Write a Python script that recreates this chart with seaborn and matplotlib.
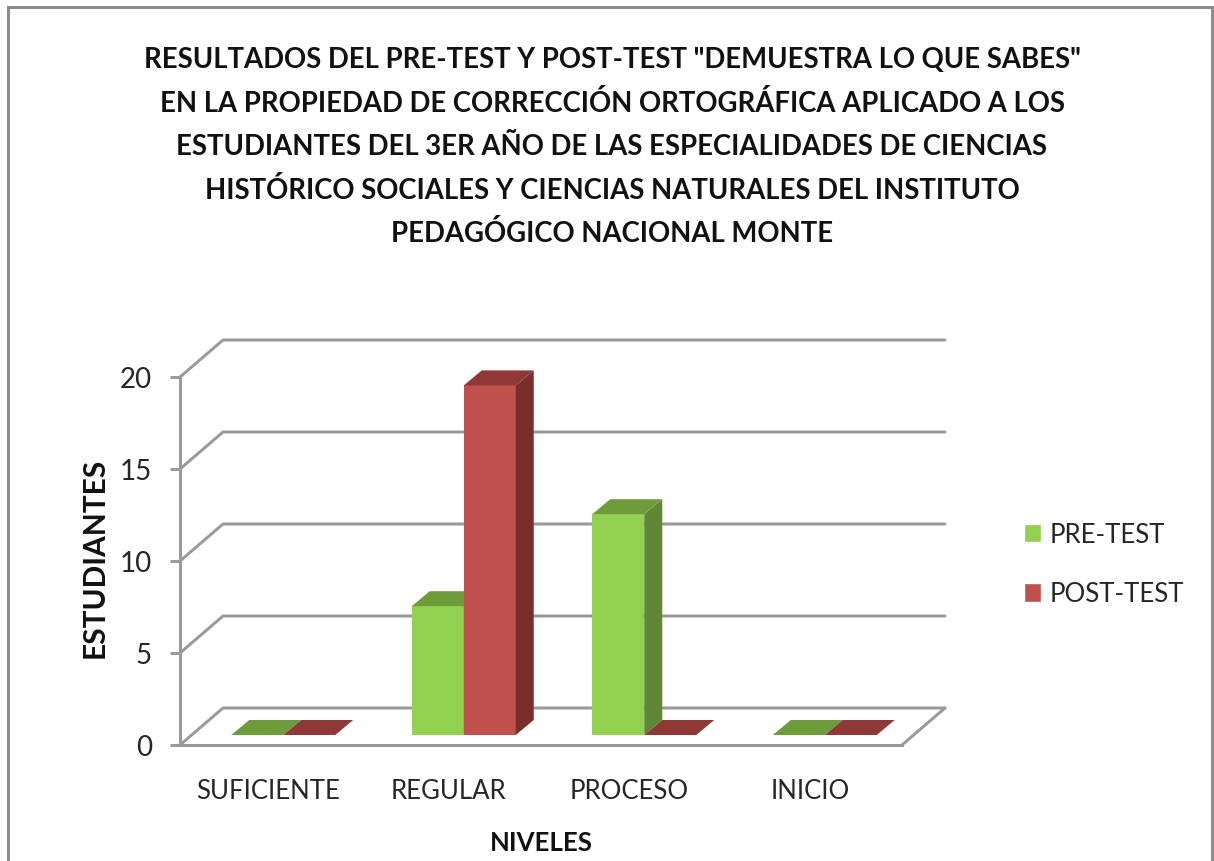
# Loads the necessary modules
import pandas as pd
import matplotlib
matplotlib.use("Agg")
import matplotlib.pyplot as plt
from matplotlib.patches import Polygon, Rectangle
from matplotlib.lines import Line2D
from matplotlib.transforms import Affine2D, IdentityTransform
import seaborn as sns

# Data
niveles = ["SUFICIENTE", "REGULAR", "PROCESO", "INICIO"]
pre_test = [0, 7, 12, 0]
post_test = [0, 19, 0, 0]
y_ticks = [0, 5, 10, 15, 20]
title_lines = [
    'RESULTADOS DEL PRE-TEST Y POST-TEST "DEMUESTRA LO QUE SABES"',
    "EN LA PROPIEDAD DE CORRECCIÓN ORTOGRÁFICA APLICADO A LOS",
    "ESTUDIANTES DEL 3ER AÑO DE LAS ESPECIALIDADES DE CIENCIAS",
    "HISTÓRICO SOCIALES Y CIENCIAS NATURALES DEL INSTITUTO",
    "PEDAGÓGICO NACIONAL MONTE",
]

df = pd.DataFrame({
    "nivel": niveles * 2,
    "estudiantes": pre_test + post_test,
    "serie": ["PRE-TEST"] * 4 + ["POST-TEST"] * 4,
})

# Colours
front = {"PRE-TEST": "#92D050", "POST-TEST": "#C0504D"}
side = {"PRE-TEST": "#5F8734", "POST-TEST": "#7A2E2C"}
top = {"PRE-TEST": "#6F9C3A", "POST-TEST": "#8F3836"}
line_grey = "#9a9a9a"
text_col = "#262626"

W, H = 1214, 862
LW = 3 * 72 / 100

sns.set_theme(style="white")
plt.rcParams["font.family"] = ["Lato", "DejaVu Sans"]

fig = plt.figure(figsize=(W / 100, H / 100), dpi=100, facecolor="white")

# Axes box is the front plane of the fake 3D chart
ax = fig.add_axes([180 / W, 1 - 746 / H, 722 / W, 368 / H], facecolor="none")

sns.barplot(data=df, x="nivel", y="estudiantes", hue="serie", palette=front,
            width=0.576, gap=0, saturation=1, dodge=True, ax=ax, zorder=3)
ax.set_xlim(-0.5, 3.5)
ax.set_ylim(0, 20)
ax.set_yticks(y_ticks)

# Depth offsets in pixels: full floor depth and where the bars stand on it
depth_x, depth_y = 43, 37
bar_x, bar_y = 13, 10
cap_x, cap_y = 18, 15

# Back wall gridlines with their slanted part
for v in y_ticks:
    x0, y0 = ax.transData.transform((-0.5, v))
    x1, _ = ax.transData.transform((3.5, v))
    ax.add_line(Line2D([x0, x0 + depth_x, x1 + depth_x],
                       [y0, y0 + depth_y, y0 + depth_y],
                       transform=IdentityTransform(), color=line_grey, lw=LW,
                       clip_on=False, zorder=1))

# Floor right edge
x1, y0 = ax.transData.transform((3.5, 0))
ax.add_line(Line2D([x1, x1 + depth_x], [y0, y0 + depth_y],
                   transform=IdentityTransform(), color=line_grey, lw=LW,
                   clip_on=False, zorder=1))

# Shift the bars onto the floor and add their side and top faces
shift = ax.transData + Affine2D().translate(bar_x, bar_y)
for n, (serie, container) in enumerate(zip(["PRE-TEST", "POST-TEST"], ax.containers)):
    for bar in container:
        bar.set_transform(shift)
        bar.set_clip_on(False)
        bar.set_linewidth(0)
        bar.set_zorder(3 + n)
        (xa, ya), (xb, yb) = shift.transform([
            (bar.get_x(), 0),
            (bar.get_x() + bar.get_width(), bar.get_height()),
        ])
        ax.add_patch(Polygon([(xb, ya), (xb + cap_x, ya + cap_y),
                              (xb + cap_x, yb + cap_y), (xb, yb)],
                             transform=IdentityTransform(), facecolor=side[serie],
                             lw=0, clip_on=False, zorder=3 + n))
        ax.add_patch(Polygon([(xa, yb), (xb, yb),
                              (xb + cap_x, yb + cap_y), (xa + cap_x, yb + cap_y)],
                             transform=IdentityTransform(), facecolor=top[serie],
                             lw=0, clip_on=False, zorder=3 + n))

# Axes styling
for s in ["top", "right"]:
    ax.spines[s].set_visible(False)
for s in ["left", "bottom"]:
    ax.spines[s].set_color(line_grey)
    ax.spines[s].set_linewidth(LW)
    ax.spines[s].set_zorder(2)
ax.tick_params(axis="y", length=7.2, width=LW, color=line_grey, pad=13,
               labelsize=20, labelcolor=text_col, left=True)
ax.tick_params(axis="x", length=0, pad=24, labelsize=18.5, labelcolor=text_col)
ax.set_xlabel("NIVELES", fontsize=18.5, fontweight="bold", color="#111111", labelpad=19)
ax.set_ylabel("ESTUDIANTES", fontsize=21.5, fontweight="bold", color="#111111", labelpad=8)
ax.yaxis.label.set_y(0.512)

# Tick labels sit slightly left of the category centres
for label in ax.get_xticklabels():
    label.set_transform(label.get_transform() + Affine2D().translate(-2, 0))

# Legend
handles, labels = ax.get_legend_handles_labels()
ax.legend_.remove()
fig.legend(handles, labels, loc="center left", bbox_to_anchor=(1024 / W, 1 - 565 / H),
           frameon=False, fontsize=18.5, labelcolor=text_col, handlelength=0.65,
           handleheight=0.75, handletextpad=0.35, labelspacing=1.33, borderpad=0,
           borderaxespad=0)

# Title, one text per line
for i, line in enumerate(title_lines):
    fig.text(612 / W, 1 - (60.5 + i * 43.3) / H, line, ha="center", va="center",
             fontsize=19.8, fontweight="bold", color="#111111")

# Chart frame, its bottom edge is cut off by the image
fig.add_artist(Rectangle((8 / W, -0.05), 1204 / W, 1.05 - 8 / H, transform=fig.transFigure,
                         facecolor="none", edgecolor="#8c8c8c", lw=LW))

# Saves the image
fig.savefig("out.png", dpi=100)
